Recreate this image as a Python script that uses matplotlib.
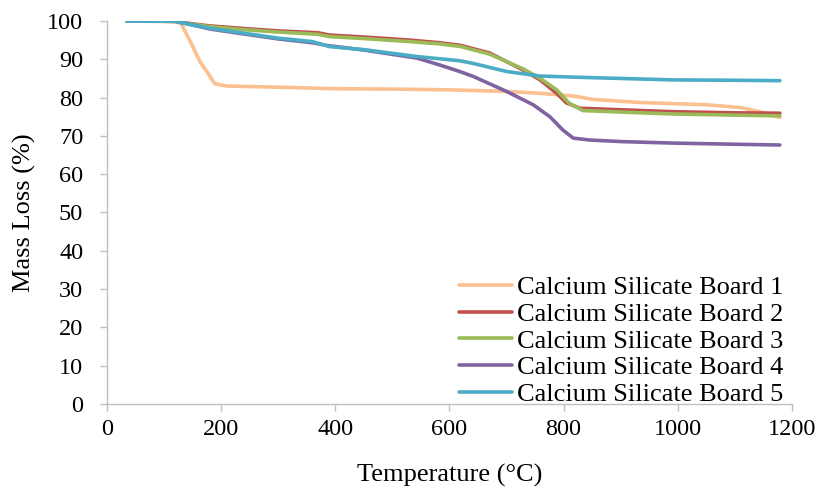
import matplotlib
matplotlib.use("Agg")
import matplotlib.pyplot as plt

plt.rcParams['font.family'] = ['Liberation Serif', 'DejaVu Serif']

# Data
t1 = [35, 120, 130, 145, 163, 175, 189, 210, 300, 400, 500, 600, 700, 759, 817, 852, 934, 1051, 1109, 1144, 1179]
m1 = [100, 99.8, 99.3, 95.0, 89.4, 86.8, 83.6, 83.0, 82.7, 82.3, 82.2, 82.0, 81.6, 81.1, 80.4, 79.5, 78.7, 78.1, 77.4, 76.3, 74.8]

t2 = [35, 120, 135, 180, 250, 300, 370, 390, 450, 530, 583, 620, 671, 729, 759, 788, 805, 829, 900, 992, 1100, 1179]
m2 = [100, 99.9, 99.5, 98.7, 97.9, 97.4, 96.9, 96.3, 95.8, 95.0, 94.3, 93.6, 91.6, 87.2, 84.6, 81.1, 78.6, 77.2, 76.8, 76.3, 76.0, 75.9]

t3 = [35, 120, 135, 180, 250, 300, 370, 390, 450, 530, 583, 620, 671, 729, 759, 788, 810, 834, 900, 992, 1100, 1179]
m3 = [100, 99.9, 99.5, 98.5, 97.6, 97.1, 96.5, 95.9, 95.4, 94.6, 94.0, 93.3, 91.3, 87.5, 85.0, 82.0, 78.5, 76.6, 76.2, 75.7, 75.4, 75.2]

t4 = [35, 120, 140, 180, 221, 300, 360, 385, 450, 543, 583, 618, 642, 700, 747, 776, 799, 817, 846, 900, 992, 1100, 1179]
m4 = [100, 99.9, 99.3, 97.9, 97.0, 95.3, 94.3, 93.6, 92.4, 90.3, 88.5, 86.8, 85.5, 81.6, 78.1, 75.0, 71.5, 69.4, 68.9, 68.5, 68.1, 67.8, 67.6]

t5 = [35, 120, 140, 180, 221, 300, 360, 390, 450, 543, 618, 642, 700, 759, 846, 992, 1100, 1179]
m5 = [100, 99.9, 99.2, 98.1, 97.2, 95.5, 94.6, 93.3, 92.5, 90.7, 89.6, 88.9, 86.8, 85.6, 85.2, 84.6, 84.5, 84.4]

labels = ["Calcium Silicate Board 1", "Calcium Silicate Board 2", "Calcium Silicate Board 3",
          "Calcium Silicate Board 4", "Calcium Silicate Board 5"]
colors = ["#FAC090", "#C0504D", "#9BBB59", "#8064A2", "#4BACC6"]

xticks = [0, 200, 400, 600, 800, 1000, 1200]
yticks = [0, 10, 20, 30, 40, 50, 60, 70, 80, 90, 100]

fig = plt.figure(figsize=(8.22, 4.92), dpi=100)
ax = fig.add_axes([0.130, 0.179, 0.8333, 0.7785])

series = [(t1, m1), (t2, m2), (t3, m3), (t4, m4), (t5, m5)]
for (t, m), lab, c in zip(series, labels, colors):
    ax.plot(t, m, color=c, lw=2.6, label=lab, solid_capstyle='round', solid_joinstyle='round')

ax.set_xlim(0, 1200)
ax.set_ylim(0, 100)
ax.set_xticks(xticks)
ax.set_yticks(yticks)

for s in ['top', 'right']:
    ax.spines[s].set_visible(False)
for s in ['left', 'bottom']:
    ax.spines[s].set_color('#bfbfbf')
    ax.spines[s].set_linewidth(1.0)

ax.tick_params(axis='both', direction='out', length=5, width=1.0, color='#bfbfbf', labelsize=17.5)
ax.tick_params(axis='y', pad=12)
ax.tick_params(axis='x', pad=6)

ax.set_xlabel("Temperature (°C)", fontsize=19, labelpad=17)
ax.set_ylabel("Mass Loss (%)", fontsize=19, labelpad=8)

leg = ax.legend(loc='lower right', bbox_to_anchor=(0.988, -0.005), frameon=False, fontsize=19,
                handlelength=2.0, handletextpad=0.2, labelspacing=0.12, borderaxespad=0.0,
                borderpad=0.0)
for line in leg.get_lines():
    line.set_linewidth(2.6)

fig.savefig("out.png", dpi=100)
